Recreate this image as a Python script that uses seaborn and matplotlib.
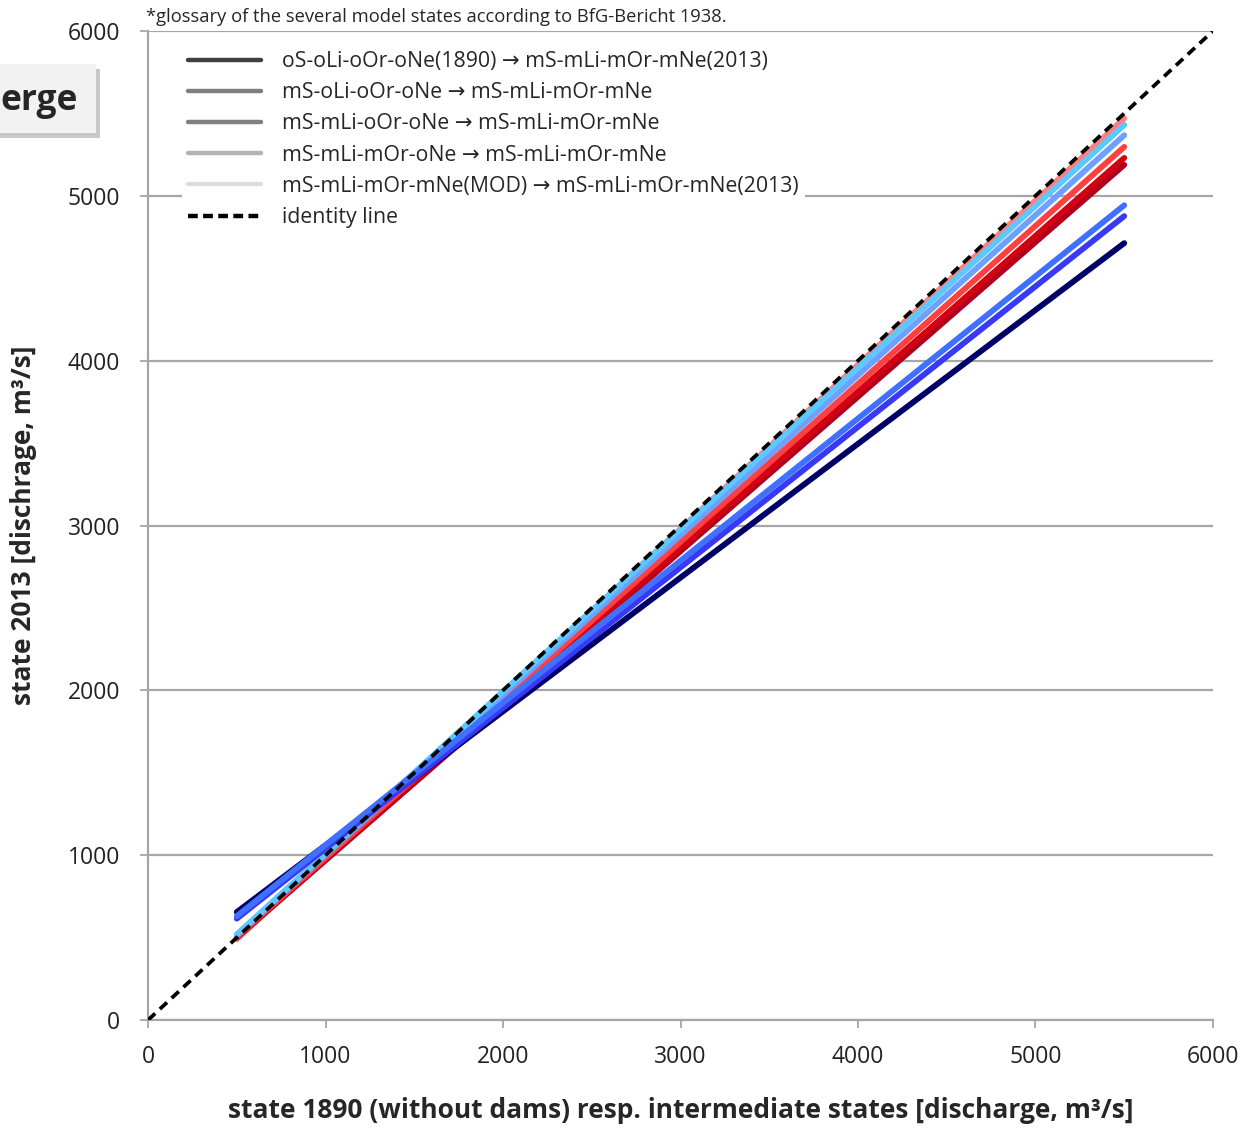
import numpy as np
import pandas as pd
import matplotlib.pyplot as plt
import seaborn as sns
from matplotlib.lines import Line2D
from matplotlib.patches import Rectangle

# dados: retas de ajuste (início em x=500, fim em x=5500)
x_points = [500, 5500]
series_names = ['pink', 'darkred', 'red', 'tomato', 'cornflower', 'cyan', 'navy', 'blue', 'royalblue']
y_start = [490, 500, 505, 505, 515, 520, 655, 615, 630]
y_end = [5470, 5188, 5230, 5297, 5368, 5430, 4713, 4877, 4943]
series_colors = ['#ff8080', '#b00020', '#d20010', '#ff4040', '#6f9fff', '#5cc8ff', '#000066', '#3838f5', '#3f70ff']

legend_labels = ['oS-oLi-oOr-oNe(1890) \u2192 mS-mLi-mOr-mNe(2013)',
                 'mS-oLi-oOr-oNe \u2192 mS-mLi-mOr-mNe',
                 'mS-mLi-oOr-oNe \u2192 mS-mLi-mOr-mNe',
                 'mS-mLi-mOr-oNe \u2192 mS-mLi-mOr-mNe',
                 'mS-mLi-mOr-mNe(MOD) \u2192 mS-mLi-mOr-mNe(2013)',
                 'identity line']
legend_grays = ['#404040', '#7f7f7f', '#808080', '#b3b3b3', '#dcdcdc']

xticks = [0, 1000, 2000, 3000, 4000, 5000, 6000]
yticks = [0, 1000, 2000, 3000, 4000, 5000, 6000]

# tabela longa para o seaborn
rows = []
for name, y0, y1 in zip(series_names, y_start, y_end):
    rows.append({'series': name, 'x': x_points[0], 'y': y0})
    rows.append({'series': name, 'x': x_points[1], 'y': y1})
df = pd.DataFrame(rows)

sns.set_theme(style='white')
plt.rcParams['font.family'] = ['Open Sans', 'DejaVu Sans']

fig = plt.figure(figsize=(12.46, 11.31), dpi=100)
ax = fig.add_axes([0.1188, 0.0981, 0.8547, 0.8745])

for v in yticks:
    ax.axhline(v, color='#a6a6a6', lw=1.6, zorder=0)

sns.lineplot(data=df, x='x', y='y', hue='series', hue_order=series_names,
             palette=dict(zip(series_names, series_colors)), lw=4.2,
             legend=False, ax=ax, zorder=2, solid_capstyle='round')

# linha identidade
ax.plot([0, 6000], [0, 6000], color='black', ls=(0, (2.6, 1.7)), lw=2.7, zorder=3)

ax.set_xlim(0, 6000)
ax.set_ylim(0, 6000)
ax.set_xticks(xticks)
ax.set_yticks(yticks)
ax.tick_params(axis='both', direction='out', length=6, width=1.3, color='#a6a6a6',
               labelsize=16.5, labelcolor='#222222', bottom=True, left=True)
ax.tick_params(axis='y', pad=14)
ax.tick_params(axis='x', pad=12)
for s in ['top', 'right']:
    ax.spines[s].set_visible(False)
for s in ['left', 'bottom']:
    ax.spines[s].set_color('#a6a6a6')
    ax.spines[s].set_linewidth(1.6)

ax.set_xlabel('state 1890 (without dams) resp. intermediate states [discharge, m\u00b3/s]',
              fontsize=19, fontweight='bold')
ax.set_ylabel('state 2013 [dischrage, m\u00b3/s]', fontsize=19, fontweight='bold')
ax.xaxis.set_label_coords(0.5, -0.078)
ax.yaxis.set_label_coords(-0.104, 0.5)

handles = [Line2D([], [], color=c, lw=3.2) for c in legend_grays]
handles.append(Line2D([], [], color='black', lw=3.2, ls=(0, (2.2, 1.2))))
leg = ax.legend(handles, legend_labels, loc='upper left', bbox_to_anchor=(0.022, 0.997),
                frameon=True, framealpha=1, facecolor='white', edgecolor='white',
                fontsize=15.3, handlelength=3.4, handletextpad=1.0, labelspacing=0.48,
                borderpad=0.3)
leg.get_frame().set_linewidth(0)

fig.text(0.117, 0.985, '*glossary of the several model states according to BfG-Bericht 1938.',
         fontsize=13.2, ha='left', va='center')

# caixa cortada no canto superior esquerdo
fig.patches.append(Rectangle((0.0, 0.878), 0.080, 0.061, transform=fig.transFigure,
                             facecolor='#c8c8c8', edgecolor='none', zorder=5))
fig.patches.append(Rectangle((0.0, 0.882), 0.077, 0.061, transform=fig.transFigure,
                             facecolor='#f2f2f2', edgecolor='none', zorder=6))
fig.text(0.0, 0.911, 'erge', fontsize=25.5, fontweight='bold', ha='left', va='center', zorder=7)

fig.savefig('out.png', dpi=100)
